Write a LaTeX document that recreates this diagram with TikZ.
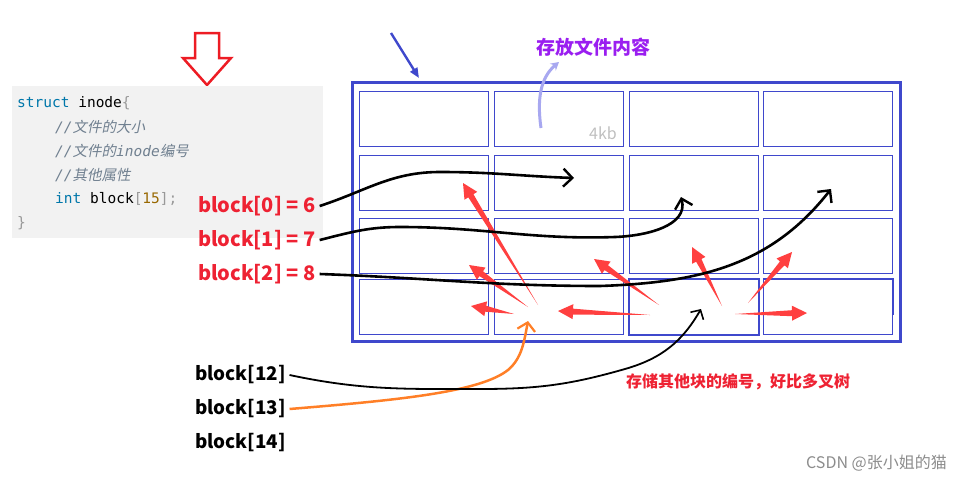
\documentclass[tikz,border=0pt]{standalone}
\usepackage{fontspec}
\usetikzlibrary{arrows.meta,calc}
\setmainfont{Noto Sans CJK SC}
\setmonofont{DejaVu Sans Mono}
\newfontfamily\cjkit[FakeSlant=0.2]{Noto Sans CJK SC}
\definecolor{frameblue}{HTML}{3F48CC}
\definecolor{codebg}{HTML}{F2F2F2}
\definecolor{kw}{HTML}{0077AA}
\definecolor{cmt}{HTML}{708090}
\definecolor{punc}{HTML}{999999}
\definecolor{numc}{HTML}{986801}
\definecolor{labred}{HTML}{EE2233}
\definecolor{burstred}{HTML}{FF4040}
\definecolor{hollowred}{HTML}{ED1C24}
\definecolor{titlepurple}{HTML}{9A1EF0}
\definecolor{lightpurple}{HTML}{A8A8F0}
\definecolor{orangec}{HTML}{FF7F27}
\newcommand\mkredarrow[2]{%
  \path (#2) coordinate (rtip) ($(#2)!15pt!(#1)$) coordinate (rhead);
  \fill[burstred] (#1) -- ($(rhead)!3pt!90:(rtip)$) -- ($(rhead)!7.5pt!90:(rtip)$) -- (rtip)
    -- ($(rhead)!7.5pt!-90:(rtip)$) -- ($(rhead)!3pt!-90:(rtip)$) -- cycle;
}
\begin{document}
\begin{tikzpicture}[x=1pt,y=-1pt,
  cell/.style={draw=frameblue, line width=0.9pt, minimum width=129pt, minimum height=55pt, inner sep=0pt, anchor=north west},
  redlab/.style={text=labred, font=\fontsize{20}{22}\selectfont\bfseries, anchor=west, inner sep=0pt, outer sep=4pt},
  blacklab/.style={text=black, font=\fontsize{18.8}{21}\selectfont\bfseries, anchor=west, inner sep=0pt, outer sep=4pt},
  codeline/.style={anchor=west, inner sep=0pt, font=\fontsize{14.5}{16}\ttfamily},
  blackcurve/.style={line width=2.6pt, black, -{Straight Barb[length=9pt,width=18pt,line width=2.4pt]}},
]
\useasboundingbox (0,0) rectangle (962,482);

% hollow red down arrow
\draw[hollowred, line width=2.5pt, line join=miter]
  (195,33) -- (219,33) -- (219,58) -- (231,58) -- (207,85) -- (183,58) -- (195,58) -- cycle;

% code box
\node[fill=codebg, minimum width=311pt, minimum height=152pt, inner sep=0pt, anchor=north west] (codebox) at (12,86) {};
\node[codeline] (l1) at (17,103) {\textcolor{kw}{struct} inode\textcolor{punc}{\{}};
\node[codeline, text=cmt] (l2) at (55,127) {\itshape //{\cjkit 文件的大小}};
\node[codeline, text=cmt] (l3) at (55,151) {\itshape //{\cjkit 文件的}inode{\cjkit 编号}};
\node[codeline, text=cmt] (l4) at (55,175) {\itshape //{\cjkit 其他属性}};
\node[codeline] (l5) at (55,199) {\textcolor{kw}{int} block\textcolor{punc}{[}\textcolor{numc}{15}\textcolor{punc}{];}};
\node[codeline, text=punc] (l6) at (17,223) {\}};

% frame and grid
\node[draw=frameblue, line width=3pt, minimum width=548pt, minimum height=259pt, inner sep=0pt, anchor=north west] (frame) at (351,81) {};
\foreach \c/\x in {1/359,2/494,3/629,4/763}
  \foreach \r/\y in {1/91,2/155,3/218,4/279}
    \node[cell] (cell\r\c) at (\x,\y) {};
\draw[frameblue, line width=2pt] (cell43.north west) rectangle (cell43.south east);
\draw[frameblue, line width=2pt] (cell44.north west) -- (cell44.north east) -- ($(cell44.north east)+(0,36)$);

\node[text=black!25, font=\fontsize{16}{18}\selectfont, inner sep=0pt] (kb) at (603,133) {4kb};

% dark blue pointer
\coordinate (dbs) at (391,33);
\coordinate (dbe) at (419,78);
\draw[frameblue, line width=2.4pt, -{Triangle[length=10pt,width=8pt]}] (dbs) -- (dbe);

% title
\node[text=titlepurple, font=\fontsize{19}{21}\selectfont\bfseries, inner sep=0pt] (title) at (593,47) {存放文件内容};
\coordinate (lps) at (541,128);
\coordinate (lpe) at (559,62);
\draw[lightpurple, line width=3pt, -{Stealth[length=8pt,width=9pt]}] (lps) .. controls (537,100) and (540,78) .. (lpe);

% red labels
\node[redlab] (b0) at (194,206) {block[0] = 6};
\node[redlab] (b1) at (194,240) {block[1] = 7};
\node[redlab] (b2) at (194,274) {block[2] = 8};

% black labels
\node[blacklab] (b12) at (191,375) {block[12]};
\node[blacklab] (b13) at (191,409) {block[13]};
\node[blacklab] (b14) at (191,443) {block[14]};

% red burst arrows
\coordinate (t1) at (538,305); \coordinate (h1) at (463,183);
\coordinate (t2) at (528,307); \coordinate (h2) at (469,265);
\coordinate (t3) at (514,314); \coordinate (h3) at (471,306);
\coordinate (t4) at (650,315); \coordinate (h4) at (558,311);
\coordinate (t5) at (659,305); \coordinate (h5) at (594,259);
\coordinate (t6) at (722,306); \coordinate (h6) at (692,247);
\coordinate (t7) at (748,303); \coordinate (h7) at (792,252);
\coordinate (t8) at (735,314); \coordinate (h8) at (807,313);
\foreach \i in {1,...,8} {\mkredarrow{t\i}{h\i}}

% black curves from labels
\coordinate (e0) at (574,178);
\coordinate (e1) at (681,197);
\coordinate (e2) at (831,189);
\draw[blackcurve] (b0.east) to[out=18,in=180] (440,172) to[out=0,in=178] (e0);
\draw[blackcurve] (b1.east) to[out=14,in=180] (400,227) to[out=0,in=182] (615,237) to[out=2,in=-75] (e1);
\draw[blackcurve] (b2.east) to[out=-2,in=180] (600,286) to[out=2,in=-128] (e2);

% orange arrow
\coordinate (oe) at (528,321);
\draw[orangec, line width=2.5pt, -{Straight Barb[length=8pt,width=18pt,line width=2.2pt]}]
  (b13.east) .. controls (400,400) and (480,392) .. (508,370) .. controls (522,358) and (524,342) .. (oe);

% thin black arrow
\coordinate (ke) at (701,309);
\draw[black, line width=1.8pt, -{Straight Barb[length=7pt,width=15pt,line width=1.6pt]}]
  (b12.east) to[out=-12,in=180] (480,389) to[out=0,in=196] (625,369) to[out=16,in=-120] (ke);

% red note
\node[text=labred, font=\fontsize{16}{18}\selectfont\bfseries, anchor=west, inner sep=0pt] (note) at (626,382) {存储其他块的编号，好比多叉树};

% watermark
\node[text=black!45, font=\fontsize{16}{18}\selectfont, anchor=east, inner sep=0pt] (wm) at (947,463) {CSDN @张小姐的猫};
\end{tikzpicture}
\end{document}
